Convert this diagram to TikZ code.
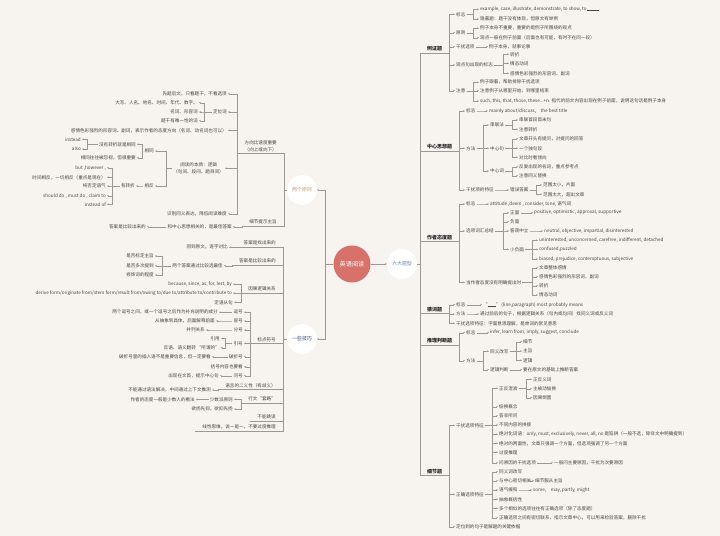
\documentclass[tikz,border=0pt]{standalone}
\usepackage{fontspec}
\setmainfont{Noto Sans CJK SC}
\usetikzlibrary{arrows.meta,calc}

\definecolor{bgcol}{HTML}{F7F3EE}
\definecolor{linecol}{HTML}{9E9892}
\definecolor{txtcol}{HTML}{4A4541}
\definecolor{rootcol}{HTML}{D9716B}
\definecolor{twocol}{HTML}{C79C6E}
\definecolor{techcol}{HTML}{2F4A78}
\definecolor{sixcol}{HTML}{6A8CB4}

\tikzset{
  line/.style={draw=linecol, line width=0.35bp},
  link/.style={line, -{Stealth[length=1.8bp,width=1.6bp]}},
  txt/.style={inner sep=1bp, text=txtcol, font=\fontsize{4.6}{6.6}\selectfont},
  rn/.style={txt, anchor=west},
  ln/.style={txt, anchor=east},
  rcat/.style={txt, anchor=south west, inner xsep=7bp, inner ysep=1.5bp, text=black!85, font=\fontsize{5}{6.6}\selectfont\bfseries},
  lcat/.style={txt, anchor=south east, inner xsep=7bp, inner ysep=1.5bp, align=center},
  bubble/.style={circle, fill=white, minimum size=30bp, inner sep=0pt, font=\fontsize{5}{6}\selectfont},
}

% parent -> child, bracket #1 away from the child
\newcommand{\rk}[3][6]{\draw[link] (#2.east) -- ($(#2.east -| #3.west)+(-#1,0)$) |- (#3.west);}
\newcommand{\lk}[3][5]{\draw[link] (#2.west) -- ($(#2.west -| #3.east)+(#1,0)$) |- (#3.east);}

\begin{document}
\begin{tikzpicture}[x=1bp,y=-1bp]
  \useasboundingbox (0,0) rectangle (720,536);
  \fill[bgcol] (0,0) rectangle (720,536);

  % centre
  \node[circle, fill=rootcol, minimum size=37bp, inner sep=0pt, text=white, font=\fontsize{6.2}{7}\selectfont] (root) at (352,264) {英语阅读};
  \node[bubble, text=twocol] (two) at (302,190) {两个原则};
  \node[bubble, text=techcol] (tech) at (302,339) {一些技巧};
  \node[bubble, text=sixcol] (six) at (402,264) {六大题型};

  \draw[link] (root.west) -- ++(-8.5,0) |- (two.east);
  \draw[link] (root.west) -- ++(-8.5,0) |- (tech.east);
  \draw[link] (root) -- (six);

  % ---------------- six types ----------------
  \node[rcat] (lz) at (420,53) {例证题};
  \node[rcat] (zx) at (420,151) {中心思想题};
  \node[rcat] (td) at (420,241.5) {作者态度题};
  \node[rcat] (cc) at (420,313.5) {猜词题};
  \node[rcat] (tl) at (420,345) {推理判断题};
  \node[rcat] (xj) at (420,475.5) {细节题};
  \draw[line] (six.east) -- (six.east -| lz.south west);
  \draw[line] (lz.south west) -- (xj.south west);
  \foreach \n in {lz,zx,td,cc,tl,xj}
    \draw[line] (\n.south west) -- (\n.south east);

  % example
  \node[rn] (lz1) at (455,14.3) {标志};
  \node[rn] (lz2) at (455,32.7) {原则};
  \node[rn] (lz3) at (455,46.7) {干扰选项};
  \node[rn] (lz4) at (455,65) {观点句出现的标志};
  \node[rn] (lz5) at (455,90.7) {注意};
  \node[rn] (lz11) at (479,9.3) {example, case, illustrate, demonstrate, to show, to\rule{12bp}{0.3bp}};
  \node[rn] (lz12) at (479,19) {隐蔽题：题干没有体现，但原文有举例};
  \node[rn] (lz21) at (479,28.3) {例子本身不重要，重要的是例子所围绕的观点};
  \node[rn] (lz22) at (479,37.7) {观点一般在例子前面（后面也有可能，有时不在同一段）};
  \node[rn] (lz31) at (488,46.7) {例子本身，就事论事};
  \node[rn] (lz41) at (509,54.3) {转折};
  \node[rn] (lz42) at (509,63.3) {情态动词};
  \node[rn] (lz43) at (509,73.3) {感情色彩强烈的形容词、副词};
  \node[rn] (lz51) at (479,82.3) {例子跟着，帮助排除干扰选项};
  \node[rn] (lz52) at (479,90.7) {注意例子从哪里开始，到哪里结束};
  \node[rn] (lz53) at (479,101) {such, this, that, those, these...+n. 指代的前文内容出现在例子前面，说明这句话是例子本身};
  \foreach \c in {lz1,lz2,lz3,lz4,lz5}
    \draw[link] (lz.south east) |- (\c.west);
  \foreach \c in {lz11,lz12} {\rk{lz1}{\c}}
  \foreach \c in {lz21,lz22} {\rk{lz2}{\c}}
  \rk{lz3}{lz31}
  \foreach \c in {lz41,lz42,lz43} {\rk{lz4}{\c}}
  \foreach \c in {lz51,lz52,lz53} {\rk{lz5}{\c}}

  % main idea
  \node[rn] (zx1) at (465,111) {标志};
  \node[rn] (zx2) at (465,148.3) {方法};
  \node[rn] (zx3) at (465,190) {干扰项的特征};
  \node[rn] (zx11) at (488,111) {mainly about/discuss,\quad the best title};
  \node[rn] (zx21) at (489,125) {串联法};
  \node[rn] (zx22) at (489,148.3) {中心句};
  \node[rn] (zx23) at (489,171) {中心词};
  \node[rn] (zx211) at (518,120) {串联首段首末句};
  \node[rn] (zx212) at (518,129.3) {注意转折};
  \node[rn] (zx221) at (518,138.7) {文章开头有提问，对提问的回答};
  \node[rn] (zx222) at (518,148.3) {一个独句段};
  \node[rn] (zx223) at (518,157.3) {对比时看倾向};
  \node[rn] (zx231) at (518,166.7) {反复出现的名词，重点参考点};
  \node[rn] (zx232) at (518,175.7) {注意同义替换};
  \node[rn] (zx31) at (509,190) {错误答案};
  \node[rn] (zx311) at (542,185) {范围太小，片面};
  \node[rn] (zx312) at (542,194.3) {范围太大，超出文章};
  \foreach \c in {zx1,zx2,zx3}
    \draw[link] (zx.south east) |- (\c.west);
  \rk{zx1}{zx11}
  \foreach \c in {zx21,zx22,zx23} {\rk{zx2}{\c}}
  \foreach \c in {zx211,zx212} {\rk{zx21}{\c}}
  \foreach \c in {zx221,zx222,zx223} {\rk{zx22}{\c}}
  \foreach \c in {zx231,zx232} {\rk{zx23}{\c}}
  \rk{zx3}{zx31}
  \foreach \c in {zx311,zx312} {\rk{zx31}{\c}}

  % attitude
  \node[rn] (td1) at (465,204) {标志};
  \node[rn] (td2) at (465,231) {选项词汇总结};
  \node[rn] (td3) at (465,282.3) {当作者态度没有明确提出时};
  \node[rn] (td11) at (489,204) {attitude ,deem ,\ consider, tone, 语气词};
  \node[rn] (td21) at (509,212.7) {正面};
  \node[rn] (td22) at (509,221.7) {负面};
  \node[rn] (td23) at (509,231) {客观中立};
  \node[rn] (td24) at (509,249.3) {小负面};
  \node[rn] (td211) at (533,212.7) {positive, optimistic, approval, supportive};
  \node[rn] (td231) at (543,231) {neutral, objective, impartial, disinterested};
  \node[rn] (td241) at (538,240.3) {uninterested, unconcerned, carefree, indifferent, detached};
  \node[rn] (td242) at (538,249.3) {confused,puzzled};
  \node[rn] (td243) at (538,259) {biased, prejudice, contemptuous, subjective};
  \node[rn] (td31) at (538,267.7) {文章整体感情};
  \node[rn] (td32) at (538,276.7) {感情色彩强烈的形容词、副词};
  \node[rn] (td33) at (538,285.7) {转折};
  \node[rn] (td34) at (538,295) {情态动词};
  \foreach \c in {td1,td2,td3}
    \draw[link] (td.south east) |- (\c.west);
  \rk{td1}{td11}
  \foreach \c in {td21,td22,td23,td24} {\rk{td2}{\c}}
  \rk{td21}{td211}
  \rk{td23}{td231}
  \foreach \c in {td241,td242,td243} {\rk{td24}{\c}}
  \foreach \c in {td31,td32,td33,td34} {\rk{td3}{\c}}

  % guessing words
  \node[rn] (cc1) at (455,304.7) {标志};
  \node[rn] (cc2) at (455,314) {方法};
  \node[rn] (cc3) at (455,323.3) {干扰选项特征：字面意思理解，是单词的常见意思};
  \node[rn] (cc11) at (482,304.7) {“\rule{8bp}{0.3bp}” (line,paragraph) most probably means};
  \node[rn] (cc21) at (479,314) {通过前后的句子，根据逻辑关系（句内或句间）找同义词或反义词};
  \foreach \c in {cc1,cc2,cc3}
    \draw[link] (cc.south east) |- (\c.west);
  \rk{cc1}{cc11}
  \rk{cc2}{cc21}

  % inference
  \node[rn] (tl1) at (465,332.7) {标志};
  \node[rn] (tl2) at (465,360.7) {方法};
  \node[rn] (tl11) at (489,332.7) {infer, learn from, imply, suggest, conclude};
  \node[rn] (tl21) at (489,351.3) {同义改写};
  \node[rn] (tl22) at (489,369.7) {逻辑判断};
  \node[rn] (tl211) at (522,341.7) {细节};
  \node[rn] (tl212) at (522,351) {主旨};
  \node[rn] (tl213) at (522,360.3) {逻辑};
  \node[rn] (tl221) at (522,369.7) {要在原文的基础上推断答案};
  \foreach \c in {tl1,tl2}
    \draw[link] (tl.south east) |- (\c.west);
  \rk{tl1}{tl11}
  \foreach \c in {tl21,tl22} {\rk{tl2}{\c}}
  \foreach \c in {tl211,tl212,tl213} {\rk{tl21}{\c}}
  \rk{tl22}{tl221}

  % details
  \node[rn] (xj1) at (455,425.3) {干扰选项特征};
  \node[rn] (xj2) at (455,494.3) {正确选项特征};
  \node[rn] (xj3) at (455,526.7) {定位到的句子是解题的关键依据};
  \node[rn] (xj11) at (498,388.3) {正反混淆};
  \node[rn] (xj111) at (532,379.3) {正反义词};
  \node[rn] (xj112) at (532,388.7) {主被动偷换};
  \node[rn] (xj113) at (532,397.7) {因果倒置};
  \node[rn] (xj12) at (498,406.7) {偷换概念};
  \node[rn] (xj13) at (498,415.7) {答非所问};
  \node[rn] (xj14) at (498,425) {不同内容的拼接};
  \node[rn] (xj15) at (498,434.3) {绝对化词语：only, must, exclusively, never, all, no 是陷阱（一般不选，除非文中明确提到）};
  \node[rn] (xj16) at (498,443.3) {绝对的两面性，文章只强调一个方面，但选项强调了另一个方面};
  \node[rn] (xj17) at (498,452.3) {过度推理};
  \node[rn] (xj18) at (498,462.7) {问原因的干扰选项};
  \node[rn] (xj181) at (553,462.7) {一般问主要原因，干扰为次要原因};
  \node[rn] (xj21) at (498,471.7) {同义词改写};
  \node[rn] (xj22) at (498,480.7) {与中心密切相关};
  \node[rn] (xj221) at (534,480.7) {细节服从主旨};
  \node[rn] (xj23) at (498,490) {语气缓和};
  \node[rn] (xj231) at (532,490) {some,\quad may, partly, might};
  \node[rn] (xj24) at (498,499.3) {抽象概括性};
  \node[rn] (xj25) at (498,508.3) {多个相似的选项往往有正确选项（除了态度题）};
  \node[rn] (xj26) at (498,517.7) {正确选项之间有密切联系，指示文章中心，可以用来检验答案，删除干扰};
  \foreach \c in {xj1,xj2,xj3}
    \draw[link] (xj.south east) |- (\c.west);
  \foreach \c in {xj11,xj12,xj13,xj14,xj15,xj16,xj17,xj18} {\rk{xj1}{\c}}
  \foreach \c in {xj111,xj112,xj113} {\rk{xj11}{\c}}
  \rk{xj18}{xj181}
  \foreach \c in {xj21,xj22,xj23,xj24,xj25,xj26} {\rk{xj2}{\c}}
  \rk{xj22}{xj221}
  \rk{xj23}{xj231}

  % ---------------- two principles ----------------
  \node[lcat] (fx) at (284,153.3) {方向比速度重要\\（向上或向下）};
  \node[lcat] (xz) at (284,225.7) {细节提示主旨};
  \draw[line] (two.west) -- ++(-3,0) |- (fx.south east);
  \draw[line] (two.west) -- ++(-3,0) |- (xz.south east);

  \node[ln] (fx1) at (228,93.7) {先题后文，只看题干，不看选项};
  \node[ln] (fx2) at (228,112) {定位词};
  \node[ln] (fx21) at (199,102.7) {大写、人名、地名、时间、年代、数字、};
  \node[ln] (fx22) at (199,112) {名词、形容词};
  \node[ln] (fx23) at (199,120.7) {题干有唯一性的词};
  \node[ln] (fx3) at (228,130.3) {感情色彩强烈的形容词、副词，表示作者的态度方向（名词、动名词也可以）};
  \node[ln, align=center] (fx4) at (225,168.3) {阅读的本质：逻辑\\（句间、段间、题目间）};
  \node[ln] (fx41) at (155,151) {相同};
  \node[ln] (fx42) at (155,186) {相反};
  \node[ln] (fx411) at (137,144.3) {没有转折就是相同};
  \node[ln] (fx412) at (137,157.7) {相同往往被忽视，但很重要};
  \node[ln] (fx4111) at (82,139.3) {instead};
  \node[ln] (fx4112) at (82,149) {also};
  \node[ln] (fx421) at (136,186) {有转折};
  \node[ln] (fx4211) at (107,167.7) {but ,however ,};
  \node[ln] (fx4212) at (107,177.3) {时间相反，一切相反（重点是现在）};
  \node[ln] (fx4213) at (107,186) {纯否定语气};
  \node[ln] (fx4214) at (107,195.7) {should do , must do , claim to};
  \node[ln] (fx4215) at (107,204.3) {instead of};
  \node[ln] (fx5) at (228,213.7) {识别同义表达，降低阅读难度};
  \node[ln] (xz1) at (233,226.7) {和中心思想相关的，是最佳答案};
  \node[ln] (xz11) at (147,226.7) {答案是比较出来的};

  \foreach \c in {fx1,fx2,fx3,fx4,fx5}
    \draw[link] (fx.south west) |- (\c.east);
  \foreach \c in {fx21,fx22,fx23} {\lk{fx2}{\c}}
  \foreach \c in {fx41,fx42} {\lk[11]{fx4}{\c}}
  \foreach \c in {fx411,fx412} {\lk{fx41}{\c}}
  \foreach \c in {fx4111,fx4112} {\lk{fx411}{\c}}
  \lk{fx42}{fx421}
  \foreach \c in {fx4211,fx4212,fx4213,fx4214,fx4215} {\lk{fx421}{\c}}
  \draw[link] (xz.south west) |- (xz1.east);
  \lk{xz1}{xz11}

  % ---------------- some tricks ----------------
  \node[lcat] (t1) at (283,246.7) {答案是找出来的};
  \node[lcat] (t2) at (283,265) {答案是比较出来的};
  \node[lcat] (t3) at (283,293) {因果逻辑关系};
  \node[lcat] (t4) at (283,343.3) {标点符号};
  \node[lcat] (t5) at (283,389.3) {语言的二义性（有歧义）};
  \node[lcat] (t6) at (283,403) {行文“套路”};
  \node[lcat] (t7) at (283,420.7) {不能跳读};
  \node[lcat] (t8) at (283,430.7) {线性思维，说一是一，不要过度推理};
  \foreach \n in {fx,xz,t1,t2,t3,t4,t5,t6,t7,t8}
    \draw[line] (\n.south west) -- (\n.south east);
  \foreach \n in {t1,t2,t3,t4,t5,t6,t7,t8}
    \draw[line] (tech.west) -- ++(-4,0) |- (\n.south east);

  \node[ln] (t11) at (229,247.3) {回到原文，逐字对比};
  \node[ln] (t21) at (224,265.7) {两个答案通过比较选最佳};
  \node[ln] (t211) at (155,256) {是否标定主旨};
  \node[ln] (t212) at (155,265.7) {是否多次提到};
  \node[ln] (t213) at (155,275) {修饰词的程度};
  \node[ln] (t31) at (233,284.3) {because, since, as, for, lest, by};
  \node[ln] (t32) at (233,293.3) {derive form/originate from/stem form/result from/owing to/due to/attribute to/contribute to};
  \node[ln] (t33) at (234,302.3) {定语从句};
  \node[ln] (t41) at (244,312.3) {逗号};
  \node[ln] (t42) at (244,321) {冒号};
  \node[ln] (t43) at (244,330) {分号};
  \node[ln] (t44) at (244,343.3) {引号};
  \node[ln] (t45) at (244,356.7) {破折号};
  \node[ln] (t46) at (244,366.7) {括号内容也要看};
  \node[ln] (t47) at (244,375.7) {问号};
  \node[ln] (t411) at (219,312.3) {两个逗号之间，或一个逗号之后作为补充说明的成分};
  \node[ln] (t421) at (216,321) {从抽象到具体，后面解释前面};
  \node[ln] (t431) at (206,330) {并列关系};
  \node[ln] (t441) at (221,338.3) {引用};
  \node[ln] (t442) at (221,347.7) {反语、语义翻转\ “所谓的”};
  \node[ln] (t451) at (212,356.7) {破折号里的插入语不是重要信息，但一定要看};
  \node[ln] (t471) at (220,375.7) {出现在文首，提示中心句};
  \node[ln] (t51) at (212,390) {不能通过语法解决，中间通过上下文推测};
  \node[ln] (t61) at (234,399.3) {少数派原则};
  \node[ln] (t611) at (196,399.3) {作者的态度一般是少数人的看法};
  \node[ln] (t62) at (234,409) {欲扬先抑，欲抑先扬};

  \draw[link] (t1.south west) |- (t11.east);
  \draw[link] (t2.south west) |- (t21.east);
  \foreach \c in {t211,t212,t213} {\lk[7]{t21}{\c}}
  \foreach \c in {t31,t32,t33}
    \draw[link] (t3.south west) |- (\c.east);
  \foreach \c in {t41,t42,t43,t44,t45,t46,t47}
    \draw[link] (t4.south west) |- (\c.east);
  \lk{t41}{t411}
  \lk{t42}{t421}
  \lk{t43}{t431}
  \foreach \c in {t441,t442} {\lk[4]{t44}{\c}}
  \lk{t45}{t451}
  \lk{t47}{t471}
  \draw[link] (t5.south west) |- (t51.east);
  \foreach \c in {t61,t62}
    \draw[link] (t6.south west) |- (\c.east);
  \lk{t61}{t611}
\end{tikzpicture}
\end{document}
